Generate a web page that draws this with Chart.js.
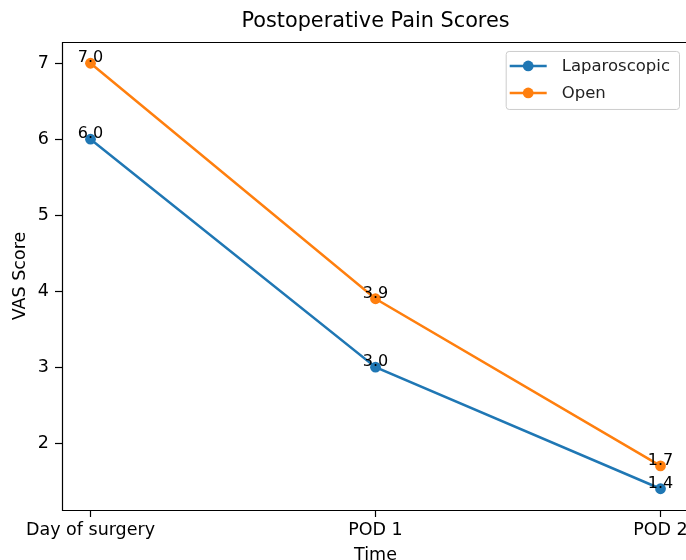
<!DOCTYPE html>
<html>
<head>
<meta charset="utf-8">
<script src="https://cdn.jsdelivr.net/npm/chart.js@4.4.0/dist/chart.umd.min.js"></script>
<style>
  html, body { margin: 0; padding: 0; background: #fff; overflow: hidden; }
  #wrap { width: 686px; height: 560px; overflow: hidden; position: relative; }
  #chart_1 { position: absolute; left: 0; top: 0; }
</style>
</head>
<body>
<div id="wrap"><canvas id="chart_1" width="700" height="570"></canvas></div>
<script>
// data
var timepoints = ['Day of surgery', 'POD 1', 'POD 2'];
var laparoscopic = [6.0, 3.0, 1.4];
var openSurgery = [7.0, 3.9, 1.7];
var yTicks = [2, 3, 4, 5, 6, 7];

var FONT = 'DejaVu Sans';
var blue = '#1f77b4';
var orange = '#ff7f0e';

function toPoints(values){
  var pts = [];
  for (var i = 0; i < values.length; i++){
    pts.push({x: i, y: values[i]});
  }
  return pts;
}

// spines like matplotlib (right one falls outside the visible page anyway)
var framePlugin = {
  id: 'frame',
  afterDraw: function(chart){
    var a = chart.chartArea, ctx = chart.ctx;
    var l = Math.round(a.left) + 0.5, t = Math.round(a.top) + 0.5;
    var r = Math.round(a.right) + 0.5, b = Math.round(a.bottom) + 0.5;
    ctx.save();
    ctx.strokeStyle = '#000';
    ctx.lineWidth = 1.2;
    ctx.beginPath();
    ctx.moveTo(r, t);
    ctx.lineTo(l, t);
    ctx.lineTo(l, b);
    ctx.lineTo(r, b);
    ctx.stroke();
    ctx.restore();
  }
};

// value labels above each point
var valueLabels = {
  id: 'valueLabels',
  afterDatasetsDraw: function(chart){
    var ctx = chart.ctx;
    ctx.save();
    ctx.font = '16px "' + FONT + '"';
    ctx.fillStyle = '#000';
    ctx.textAlign = 'center';
    ctx.textBaseline = 'bottom';
    chart.data.datasets.forEach(function(ds, di){
      var meta = chart.getDatasetMeta(di);
      meta.data.forEach(function(pt, i){
        ctx.fillText(ds.data[i].y.toFixed(1), pt.x, pt.y + 3);
      });
    });
    ctx.restore();
  }
};

// legend in upper right, drawn inside the axes
var boxLegend = {
  id: 'boxLegend',
  afterDraw: function(chart){
    var a = chart.chartArea, ctx = chart.ctx;
    var sets = chart.data.datasets;
    ctx.save();
    ctx.font = '16.5px "' + FONT + '"';
    var maxW = 0;
    sets.forEach(function(ds){ maxW = Math.max(maxW, ctx.measureText(ds.label).width); });
    var w = 4 + 37 + 15 + maxW + 9;
    var h = 58;
    var x = a.right - 10 - w;
    var y = a.top + 9;
    ctx.beginPath();
    ctx.roundRect(x + 0.5, y + 0.5, w, h, 3);
    ctx.fillStyle = 'rgba(255,255,255,0.8)';
    ctx.fill();
    ctx.strokeStyle = '#cccccc';
    ctx.lineWidth = 1;
    ctx.stroke();
    sets.forEach(function(ds, i){
      var cy = y + 15 + i * 27;
      ctx.strokeStyle = ds.borderColor;
      ctx.lineWidth = 2.5;
      ctx.beginPath();
      ctx.moveTo(x + 4, cy);
      ctx.lineTo(x + 41, cy);
      ctx.stroke();
      ctx.fillStyle = ds.borderColor;
      ctx.beginPath();
      ctx.arc(x + 22.5, cy, 5.4, 0, Math.PI * 2);
      ctx.fill();
      ctx.fillStyle = '#222';
      ctx.textAlign = 'left';
      ctx.textBaseline = 'middle';
      ctx.fillText(ds.label, x + 56, cy + 1);
    });
    ctx.restore();
  }
};

var ctx_1 = document.getElementById('chart_1').getContext('2d');
var chart_1 = new Chart(ctx_1, {
  type: 'line',
  data: {
    datasets: [{
      label: 'Laparoscopic',
      data: toPoints(laparoscopic),
      borderColor: blue,
      backgroundColor: blue,
      borderWidth: 2.5,
      pointRadius: 5.4,
      pointHoverRadius: 5.4,
      pointBorderWidth: 0,
      fill: false,
      tension: 0
    }, {
      label: 'Open',
      data: toPoints(openSurgery),
      borderColor: orange,
      backgroundColor: orange,
      borderWidth: 2.5,
      pointRadius: 5.4,
      pointHoverRadius: 5.4,
      pointBorderWidth: 0,
      fill: false,
      tension: 0
    }]
  },
  options: {
    responsive: false,
    animation: false,
    events: [],
    layout: { padding: { left: 0, right: 11, top: 0, bottom: 0 } },
    plugins: {
      legend: { display: false },
      tooltip: { enabled: false },
      title: {
        display: true,
        fullSize: false,
        text: 'Postoperative Pain Scores',
        color: '#000',
        font: { family: FONT, size: 20.8, weight: 'normal', lineHeight: 1.2 },
        padding: { top: 9, bottom: 8 }
      }
    },
    scales: {
      x: {
        type: 'linear',
        min: -0.1,
        max: 2.1,
        afterBuildTicks: function(scale){
          scale.ticks = timepoints.map(function(t, i){ return {value: i}; });
        },
        afterFit: function(scale){ scale.height = 60; },
        grid: { drawOnChartArea: false, drawTicks: true, tickLength: 7, tickColor: '#000', tickWidth: 1.2 },
        border: { display: false },
        ticks: {
          color: '#000',
          padding: 3,
          maxRotation: 0,
          font: { family: FONT, size: 17.5 },
          callback: function(v){ return timepoints[v]; }
        },
        title: {
          display: true,
          text: 'Time',
          color: '#000',
          font: { family: FONT, size: 17.5 },
          padding: { top: 0, bottom: 4.5 }
        }
      },
      y: {
        min: 1.12,
        max: 7.28,
        afterBuildTicks: function(scale){
          scale.ticks = yTicks.map(function(v){ return {value: v}; });
        },
        afterFit: function(scale){ scale.width = 62; },
        grid: { drawOnChartArea: false, drawTicks: true, tickLength: 7, tickColor: '#000', tickWidth: 1.2 },
        border: { display: false },
        ticks: {
          color: '#000',
          padding: 6,
          font: { family: FONT, size: 17.5 }
        },
        title: {
          display: true,
          text: 'VAS Score',
          color: '#000',
          font: { family: FONT, size: 17.5 },
          padding: { top: 9.5, bottom: 0 }
        }
      }
    }
  },
  plugins: [framePlugin, valueLabels, boxLegend]
});
</script>
</body>
</html>
